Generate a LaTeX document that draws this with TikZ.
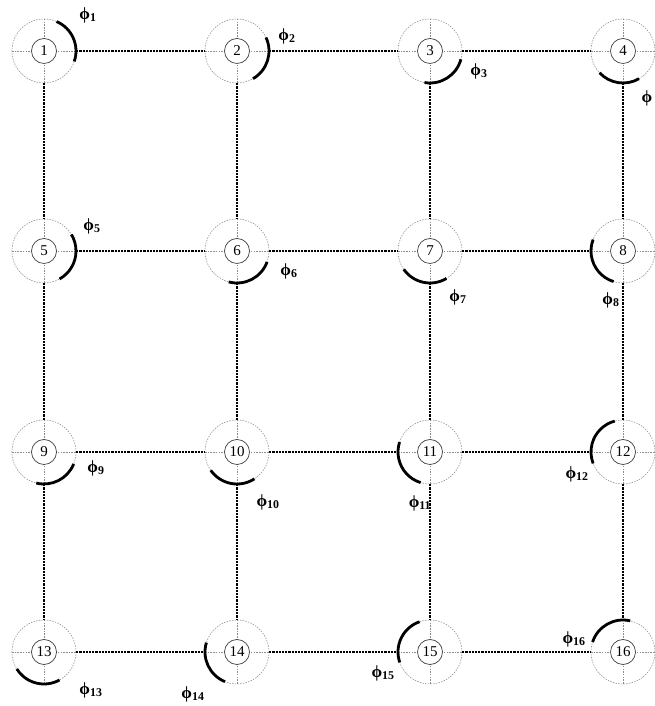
\documentclass[tikz,border=0pt]{standalone}
\usepackage{fontspec}
\setmainfont{Liberation Serif}
\begin{document}
\begin{tikzpicture}[x=1pt,y=1pt,
  ringnode/.style={circle, minimum size=64pt, inner sep=0pt, draw=gray!90, line width=0.55pt,
    dash pattern=on 1.5pt off 1.2pt,
    path picture={\draw[gray!90, line width=0.55pt, dash pattern=on 1.5pt off 1.2pt]
      (path picture bounding box.west) -- (path picture bounding box.east)
      (path picture bounding box.north) -- (path picture bounding box.south);}},
  numnode/.style={circle, minimum size=25pt, inner sep=0pt, draw=black!75, line width=0.7pt,
    fill=white, font=\fontsize{15}{15}\selectfont},
  conn/.style={black, line width=2.8pt, dash pattern=on 2.2pt off 1pt},
  phase/.style={black, line width=2.8pt},
  lab/.style={inner sep=0pt, font=\fontsize{17}{17}\selectfont\bfseries}
]
\useasboundingbox (0,0) rectangle (654,706);

% rings
\foreach \i/\x/\y in {1/44/655, 2/237/655, 3/430/655, 4/623/655,
                      5/44/455, 6/237/455, 7/430/455, 8/623/455,
                      9/44/254, 10/237/254, 11/430/254, 12/623/254,
                      13/44/54, 14/237/54, 15/430/54, 16/623/54}
  \node[ringnode] (n\i) at (\x,\y) {};

% connectors
\foreach \a/\b in {1/2, 2/3, 3/4, 5/6, 6/7, 7/8, 9/10, 10/11, 11/12, 13/14, 14/15, 15/16,
                   1/5, 5/9, 9/13, 2/6, 6/10, 10/14, 3/7, 7/11, 11/15, 4/8, 8/12, 12/16}
  \draw[conn] (n\a) -- (n\b);

% phase arcs
\foreach \i/\s/\e in {1/-19/67, 2/-60/25, 3/-100/-15, 4/-137/-60,
                      5/-61/31, 6/-105/-20, 7/-145/-59, 8/159/253,
                      9/-104/-22, 10/-145/-57, 11/162/253, 12/105/201,
                      13/-148/-61, 14/163/248, 15/109/199, 16/77/162}
  \draw[phase] ([shift={(\s:32pt)}]n\i.center) arc[start angle=\s, end angle=\e, radius=32pt];

% numbers
\foreach \i in {1,...,16}
  \node[numnode] (c\i) at (n\i) {\i};

% labels
\node[lab] (p1) at (88,691) {ϕ\textsubscript{1}};
\node[lab] (p2) at (287,670) {ϕ\textsubscript{2}};
\node[lab] (p3) at (479,635) {ϕ\textsubscript{3}};
\node[lab] (p4) at (647,608) {ϕ};
\node[lab] (p5) at (92,480) {ϕ\textsubscript{5}};
\node[lab] (p6) at (289,435) {ϕ\textsubscript{6}};
\node[lab] (p7) at (458,409) {ϕ\textsubscript{7}};
\node[lab] (p8) at (611,406) {ϕ\textsubscript{8}};
\node[lab] (p9) at (96,238) {ϕ\textsubscript{9}};
\node[lab] (p10) at (268,204) {ϕ\textsubscript{10}};
\node[lab] (p11) at (420,203) {ϕ\textsubscript{11}};
\node[lab] (p12) at (577,232) {ϕ\textsubscript{12}};
\node[lab] (p13) at (91,16) {ϕ\textsubscript{13}};
\node[lab] (p14) at (193,12) {ϕ\textsubscript{14}};
\node[lab] (p15) at (383,33) {ϕ\textsubscript{15}};
\node[lab] (p16) at (574,67) {ϕ\textsubscript{16}};
\end{tikzpicture}
\end{document}
